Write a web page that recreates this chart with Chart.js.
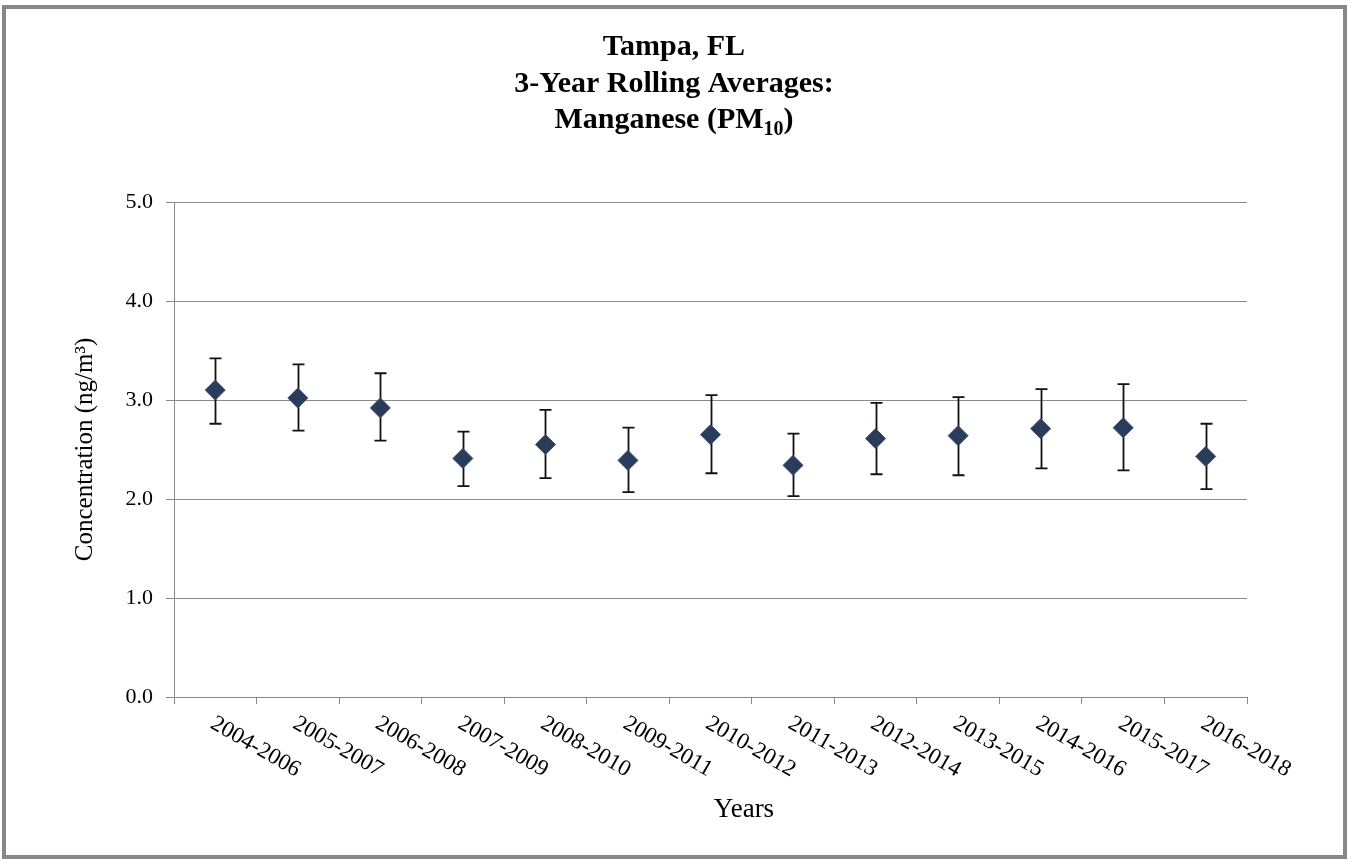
<!DOCTYPE html>
<html>
<head>
<meta charset="utf-8">
<title>Tampa, FL 3-Year Rolling Averages: Manganese (PM10)</title>
<script src="https://cdn.jsdelivr.net/npm/chart.js@4"></script>
<style>
  html, body { margin: 0; padding: 0; background: #fff; overflow: hidden; }
  #wrap { position: absolute; left: 0; top: 0; width: 1349px; height: 861px; }
</style>
</head>
<body>
<div id="wrap"><canvas id="mnChart"></canvas></div>
<script>
// 3-year rolling averages, Mn in PM10, ng/m3
const periods = ['2004-2006', '2005-2007', '2006-2008', '2007-2009', '2008-2010', '2009-2011',
                 '2010-2012', '2011-2013', '2012-2014', '2013-2015', '2014-2016', '2015-2017', '2016-2018'];
const averages = [3.10, 3.02, 2.92, 2.41, 2.55, 2.39, 2.65, 2.34, 2.61, 2.64, 2.71, 2.72, 2.43];
// confidence interval bounds
const lowerBounds = [2.76, 2.69, 2.59, 2.13, 2.21, 2.07, 2.26, 2.03, 2.25, 2.24, 2.31, 2.29, 2.10];
const upperBounds = [3.42, 3.36, 3.27, 2.68, 2.90, 2.72, 3.05, 2.66, 2.97, 3.03, 3.11, 3.16, 2.76];
const yTicks = [0, 1, 2, 3, 4, 5];

const titleLines = ['Tampa, FL', '3-Year Rolling Averages:'];
const serif = '"Liberation Serif", "Times New Roman", serif';
const gridGray = '#8a8a8a';

// grey frame around the whole figure
const framePlugin = {
    id: 'frame',
    beforeDraw(chart) {
        const ctx = chart.ctx;
        ctx.save();
        ctx.fillStyle = '#fff';
        ctx.fillRect(0, 0, chart.width, chart.height);
        ctx.strokeStyle = '#878787';
        ctx.lineWidth = 4;
        ctx.strokeRect(4, 7, 1341, 850);
        ctx.restore();
    }
};

// title block, the last line carries a subscript
const titlePlugin = {
    id: 'titleBlock',
    afterDraw(chart) {
        const ctx = chart.ctx;
        const cx = 674;
        ctx.save();
        ctx.fillStyle = '#000';
        ctx.textBaseline = 'alphabetic';
        ctx.textAlign = 'center';
        ctx.font = 'bold 30px ' + serif;
        ctx.fillText(titleLines[0], cx, 55);
        ctx.fillText(titleLines[1], cx, 92);

        const main = 'Manganese (PM';
        const sub = '10';
        const tail = ')';
        ctx.textAlign = 'left';
        const wMain = ctx.measureText(main).width;
        const wTail = ctx.measureText(tail).width;
        ctx.font = 'bold 20px ' + serif;
        const wSub = ctx.measureText(sub).width;
        let x = cx - (wMain + wSub + wTail) / 2;
        ctx.font = 'bold 30px ' + serif;
        ctx.fillText(main, x, 128);
        x += wMain;
        ctx.font = 'bold 20px ' + serif;
        ctx.fillText(sub, x, 135);
        x += wSub;
        ctx.font = 'bold 30px ' + serif;
        ctx.fillText(tail, x, 128);

        // x axis title
        ctx.font = '27px ' + serif;
        ctx.textAlign = 'center';
        ctx.fillText('Years', 744, 817);
        ctx.restore();
    }
};

// slanted category labels under the x axis
const slantLabels = {
    id: 'slantLabels',
    afterDraw(chart) {
        const ctx = chart.ctx;
        const xs = chart.scales.x;
        ctx.save();
        ctx.fillStyle = '#000';
        ctx.font = '23px ' + serif;
        ctx.textAlign = 'left';
        ctx.textBaseline = 'middle';
        periods.forEach((lbl, i) => {
            const x = xs.getPixelForValue(i);
            ctx.save();
            ctx.translate(x - 3, xs.top + 25);
            ctx.rotate(Math.PI / 6);
            ctx.fillText(lbl, 0, 0);
            ctx.restore();
        });
        ctx.restore();
    }
};

// whiskers drawn before the markers so the diamonds sit on top
const errorBars = {
    id: 'errorBars',
    beforeDatasetsDraw(chart) {
        const ctx = chart.ctx;
        const xs = chart.scales.x, ys = chart.scales.y;
        ctx.save();
        ctx.strokeStyle = '#111';
        ctx.lineWidth = 1.8;
        periods.forEach((p, i) => {
            const x = Math.round(xs.getPixelForValue(i)) + 0.5;
            const yLo = ys.getPixelForValue(lowerBounds[i]);
            const yHi = ys.getPixelForValue(upperBounds[i]);
            ctx.beginPath();
            ctx.moveTo(x, yLo);
            ctx.lineTo(x, yHi);
            ctx.moveTo(x - 6, yLo);
            ctx.lineTo(x + 6, yLo);
            ctx.moveTo(x - 6, yHi);
            ctx.lineTo(x + 6, yHi);
            ctx.stroke();
        });
        ctx.restore();
    }
};

new Chart(document.getElementById('mnChart'), {
    type: 'line',
    data: {
        labels: periods,
        datasets: [{
            data: averages,
            showLine: false,
            pointStyle: 'rectRot',
            pointRadius: 10,
            pointHoverRadius: 10,
            pointBackgroundColor: '#2b3c5a',
            pointBorderColor: '#3d5175',
            pointBorderWidth: 1
        }]
    },
    options: {
        responsive: true,
        maintainAspectRatio: false,
        animation: false,
        events: [],
        layout: { padding: { left: 0, top: 202, right: 102, bottom: 0 } },
        plugins: {
            legend: { display: false },
            tooltip: { enabled: false },
            title: { display: false }
        },
        scales: {
            x: {
                offset: true,
                grid: {
                    offset: true,
                    drawOnChartArea: false,
                    drawTicks: true,
                    tickLength: 7,
                    color: gridGray
                },
                border: { color: gridGray, width: 1 },
                ticks: { display: false },
                afterFit(scale) { scale.height = 164; }
            },
            y: {
                min: 0,
                max: 5,
                afterBuildTicks(scale) {
                    scale.ticks = yTicks.map(v => ({ value: v }));
                },
                grid: {
                    color: gridGray,
                    drawTicks: true,
                    tickLength: 8
                },
                border: { color: gridGray, width: 1 },
                ticks: {
                    color: '#000',
                    padding: 13,
                    font: { family: serif, size: 22 },
                    callback: v => Number(v).toFixed(1)
                },
                title: {
                    display: true,
                    text: 'Concentration (ng/m³)',
                    color: '#000',
                    font: { family: serif, size: 25 },
                    padding: { top: 70, bottom: 0 }
                },
                afterFit(scale) { scale.width = 174; }
            }
        }
    },
    plugins: [framePlugin, errorBars, slantLabels, titlePlugin]
});
</script>
</body>
</html>
